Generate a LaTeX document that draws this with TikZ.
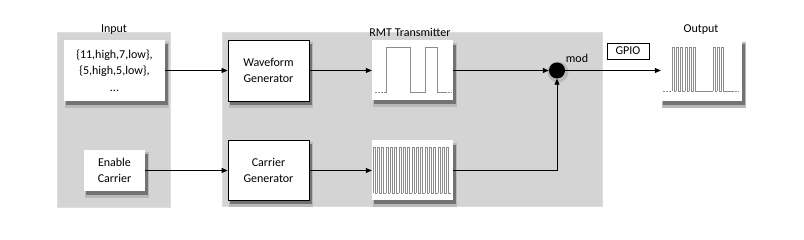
\documentclass[tikz,border=0pt]{standalone}
\usepackage{fontspec}
\setmainfont{Carlito}
\usetikzlibrary{arrows.meta}
\definecolor{panelgray}{RGB}{212,212,212}
\definecolor{panelsoft}{RGB}{222,222,222}
\definecolor{wavegray}{RGB}{140,140,140}
\definecolor{shadowA}{RGB}{185,185,185}
\definecolor{shadowC}{RGB}{115,115,115}
\tikzset{
  txt/.style={font=\fontsize{12}{16.5}\selectfont},
  whitebox/.style={txt, fill=white, draw=none, align=center, inner sep=0pt},
  blockbox/.style={txt, fill=white, draw=black, line width=0.8pt, align=center, inner sep=0pt},
  imgbox/.style={fill=white, draw=none, inner sep=0pt},
  conn/.style={line width=0.8pt, -{Triangle[length=6pt,width=5pt]}},
  wave/.style={wavegray, line width=0.8pt},
  wdash/.style={wavegray, line width=0.8pt, dash pattern=on 1.5pt off 1.5pt},
}
\begin{document}
\begin{tikzpicture}[x=1pt,y=-1pt]
\useasboundingbox (0,0) rectangle (804,240);
% panels
\fill[panelsoft] (57,32) rectangle (171,208);
\fill[panelgray] (58,33) rectangle (170,207);
\fill[panelsoft] (222,32) rectangle (603,207);
\fill[panelgray] (223,33) rectangle (602,206);
% shadows (literal coordinates, drawn before the boxes)
\fill[shadowA] (65,42) rectangle (169,108);
\fill[shadowC] (66,44) rectangle (167.5,105.5);
\fill[shadowA] (85,152) rectangle (149,198);
\fill[shadowC] (86,154) rectangle (147.5,195.5);
\fill[shadowA] (229,42) rectangle (313,108);
\fill[shadowC] (230,44) rectangle (311.5,105.5);
\fill[shadowA] (229,142) rectangle (313,207);
\fill[shadowC] (230,144) rectangle (311.5,204.5);
\fill[shadowA] (373,43) rectangle (457,107);
\fill[shadowC] (374,45) rectangle (455.5,104.5);
\fill[shadowA] (373,143) rectangle (457,207);
\fill[shadowC] (374,145) rectangle (455.5,204.5);
\fill[shadowA] (662,42) rectangle (746,108);
\fill[shadowC] (663,44) rectangle (744.5,105.5);
\fill[shadowA] (558,72) circle (10.5);
% labels
\node[txt] (inlabel) at (114,30) {Input};
\node[txt] (rmtlabel) at (410,32) {RMT Transmitter};
\node[txt] (outlabel) at (701,30) {Output};
% boxes
\node[whitebox, minimum width=101pt, minimum height=61pt] (inbox) at (114.5,70.5)
  {\{11,high,7,low\},\\\{5,high,5,low\},\\...};
\node[whitebox, minimum width=61pt, minimum height=41pt] (enbox) at (114.5,170.5)
  {Enable\\Carrier};
\node[blockbox, minimum width=81pt, minimum height=61pt] (wg) at (268.5,70.5)
  {Waveform\\Generator};
\node[blockbox, minimum width=81pt, minimum height=60pt] (cg) at (268.5,170.5)
  {Carrier\\Generator};
\node[imgbox, minimum width=81pt, minimum height=60pt] (wimg) at (412.5,70.5) {};
\node[imgbox, minimum width=81pt, minimum height=60pt] (cimg) at (412.5,170.5) {};
\node[imgbox, minimum width=81pt, minimum height=61pt] (oimg) at (701.5,70.5) {};
\node[circle, fill=black, minimum size=16pt, inner sep=0pt] (mod) at (557,70.5) {};
\node[txt] (modlabel) at (577,58) {mod};
\node[txt, draw=black, line width=0.8pt, minimum width=42pt, minimum height=16pt, inner sep=0pt] (gpio) at (628,51) {GPIO};
% waveform image
\draw[wdash] (375,92) -- (384,92);
\draw[wave] (384,92) -- (386,92) -- (386,47) -- (410,47) -- (410,92) -- (425,92) -- (425,47) -- (437,47) -- (437,92) -- (445,92);
\draw[wdash] (445,92) -- (452,92);
% carrier image
\foreach \i in {0,...,17} {
  \pgfmathsetmacro{\xa}{373+\i*4.333}
  \pgfmathsetmacro{\xb}{\xa+2.167}
  \pgfmathsetmacro{\xc}{\xa+4.333}
  \draw[wave, line width=0.7pt] (\xa,193) -- (\xa,147) -- (\xb,147) -- (\xb,193) -- (\xc,193);
}
% output image
\draw[wdash] (663,91) -- (672,91);
\foreach \i in {0,...,5} {
  \pgfmathsetmacro{\xa}{672+\i*4.333}
  \pgfmathsetmacro{\xb}{\xa+2.167}
  \pgfmathsetmacro{\xc}{\xa+4.333}
  \draw[wave, line width=0.7pt] (\xa,91) -- (\xa,47) -- (\xb,47) -- (\xb,91) -- (\xc,91);
}
\draw[wave] (698,91) -- (713,91);
\foreach \i in {0,...,2} {
  \pgfmathsetmacro{\xa}{713+\i*4.333}
  \pgfmathsetmacro{\xb}{\xa+2.167}
  \pgfmathsetmacro{\xc}{\xa+4.333}
  \draw[wave, line width=0.7pt] (\xa,91) -- (\xa,47) -- (\xb,47) -- (\xb,91) -- (\xc,91);
}
\draw[wave] (726,91) -- (732,91);
\draw[wdash] (732,91) -- (739,91);
% connectors
\draw[conn] (inbox) -- (wg);
\draw[conn] (enbox) -- (cg);
\draw[conn] (wg) -- (wimg);
\draw[conn] (cg) -- (cimg);
\draw[conn] (wimg) -- (mod);
\draw[conn] (cimg.east) -| (mod.south);
\draw[conn] (mod) -- (oimg);
\end{tikzpicture}
\end{document}
